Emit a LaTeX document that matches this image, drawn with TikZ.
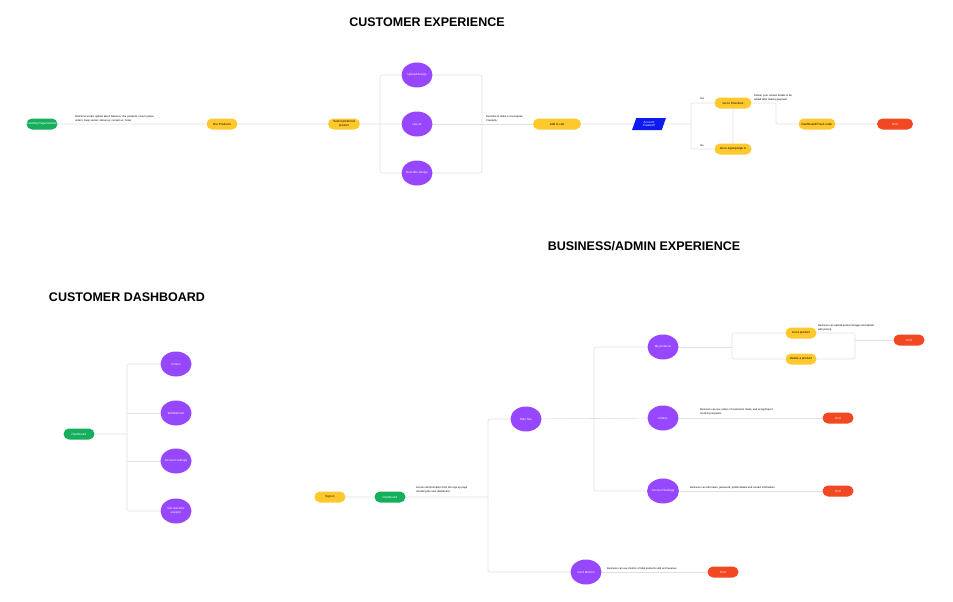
\documentclass[tikz,border=0pt]{standalone}
\usepackage{fontspec}
\setmainfont{Liberation Sans}
\usetikzlibrary{shapes.geometric,shapes.misc}
\definecolor{cgreen}{HTML}{14AE5C}
\definecolor{cyellow}{HTML}{FFC92E}
\definecolor{cpurple}{HTML}{9747FF}
\definecolor{cred}{HTML}{F24822}
\definecolor{cblue}{HTML}{0D1AF0}
\definecolor{cline}{HTML}{E0E0E0}
\newcommand\tinyf{\fontsize{3}{3.6}\selectfont}
\newcommand\notef{\fontsize{2.6}{3.3}\selectfont}
\tikzset{
  pill/.style={rounded rectangle, minimum height=11pt, minimum width=31pt, inner sep=0pt, font=\tinyf, align=center},
  gpill/.style={pill, fill=cgreen, text=white},
  ypill/.style={pill, fill=cyellow, text=black},
  rpill/.style={pill, fill=cred, text=white},
  circ/.style={ellipse, fill=cpurple, text=white, minimum width=31pt, minimum height=25pt, inner sep=0pt, font=\tinyf, align=center},
  para/.style={trapezium, trapezium left angle=70, trapezium right angle=110, trapezium stretches=true, minimum width=34pt, minimum height=12pt, inner sep=0pt, fill=cblue, text=white, font=\tinyf, align=center},
  note/.style={anchor=south west, inner sep=0pt, font=\notef, align=left},
  lbl/.style={inner sep=0pt, font=\notef},
  ttl/.style={font=\bfseries\fontsize{12.5}{14}\selectfont, inner sep=0pt},
  ln/.style={draw=cline, line width=0.6pt, rounded corners=2pt},
}
\begin{document}
\begin{tikzpicture}[x=1pt,y=-1pt]
\useasboundingbox[fill=white] (0,0) rectangle (953,602);
% titles
\node[ttl] (t1) at (427,22) {CUSTOMER EXPERIENCE};
\node[ttl] (t2) at (644,246) {BUSINESS/ADMIN EXPERIENCE};
\node[ttl] (t3) at (127,297) {CUSTOMER DASHBOARD};

% ---------- customer experience ----------
\node[gpill] (landing) at (42,124) {Landing Page/website};
\node[ypill] (products) at (222,124) {Our Products};
\node[ypill, minimum width=32pt] (select) at (344,124) {Select preferred\\product};
\node[circ] (upload) at (417,75) {Upload design};
\node[circ] (useai) at (417,124) {Use AI};
\node[circ] (describe) at (417,173) {Describe design};
\node[ypill, minimum width=48pt] (addcart) at (557,124) {Add to cart};
\node[para] (acct) at (649,124) {Account\\Created?};
\node[ypill, minimum width=37pt] (checkout) at (733,103) {Go to Checkout};
\node[ypill, minimum width=37pt] (signup) at (733,149) {Go to signup/sign in};
\node[ypill, minimum width=37pt] (track) at (817,124) {Dashboard/Track order};
\node[rpill, minimum width=36pt] (end1) at (895,124) {End};

\coordinate (bl) at (380,124);
\coordinate (br) at (482,124);
\coordinate (split) at (691,124);
\coordinate (cbend) at (776,103);

\draw[ln] (landing) -- (products);
\draw[ln] (products) -- (select);
\draw[ln] (select) -- (useai);
\draw[ln] (useai) -- (addcart);
\draw[ln] (upload) -| (bl) |- (describe);
\draw[ln] (upload) -| (br) |- (describe);
\draw[ln] (addcart) -- (acct);
\draw[ln] (acct) -- (split);
\draw[ln] (checkout) -| (split) |- (signup);
\draw[ln] (checkout) -- (signup);
\draw[ln] (checkout) -- (cbend) |- (track);
\draw[ln] (track) -- (end1);

\node[note] (n1) at (75,122) {Welcome words/ update about fabulous; Our products; How to place\\orders; Faqs section; about us; contact us; footer};
\node[note] (n2) at (486,122) {Describe to make a Conceptual\\Creativity};
\node[note] (n3) at (754,101) {Deliver your contact details to be\\added after making payment};
\node[lbl] (yes) at (702,99) {Yes};
\node[lbl] (no) at (702,146) {No};

% ---------- customer dashboard ----------
\node[gpill] (dashc) at (79,434) {Dashboard};
\node[circ] (orders1) at (176,364) {Orders};
\node[circ] (wish) at (176,413) {Wishlist/cart};
\node[circ] (acctset) at (176,461) {Account settings};
\node[circ] (support) at (176,511) {Get real-time\\support};
\coordinate (dsplit) at (127,434);
\draw[ln] (dashc) -- (dsplit);
\draw[ln] (orders1) -| (dsplit) |- (support);
\draw[ln] (wish) -- (wish -| dsplit);
\draw[ln] (acctset) -- (acctset -| dsplit);

% ---------- business / admin ----------
\node[ypill] (signin) at (330,497) {Sign in};
\node[gpill] (bdash) at (390,497) {Dashboard};
\node[circ] (sidenav) at (526,419) {Side Nav};
\node[circ] (myprod) at (663,347) {My products};
\node[circ] (orders2) at (663,418) {Orders};
\node[circ] (accset2) at (663,491) {Account Settings};
\node[circ] (cardm) at (586,572) {Card Metrics};
\node[ypill] (listp) at (801,333) {List a product};
\node[ypill] (delp) at (801,359) {Delete a product};
\node[rpill] (end2) at (909,340) {End};
\node[rpill] (end3) at (838,418) {End};
\node[rpill] (end4) at (838,491) {End};
\node[rpill] (end5) at (723,572) {End};

\coordinate (bsplit) at (488,497);
\coordinate (ssplit) at (594,419);
\coordinate (psplit) at (732,347);
\coordinate (pr) at (855,340);

\draw[ln] (signin) -- (bdash);
\draw[ln] (bdash) -- (bsplit);
\draw[ln] (sidenav) -| (bsplit) |- (cardm);
\draw[ln] (sidenav) -- (orders2);
\draw[ln] (myprod) -| (ssplit) |- (accset2);
\draw[ln] (myprod) -- (psplit);
\draw[ln] (listp) -| (psplit) |- (delp);
\draw[ln] (listp) -| (pr) |- (delp);
\draw[ln] (pr) -- (end2);
\draw[ln] (orders2) -- (end3);
\draw[ln] (accset2) -- (end4);
\draw[ln] (cardm) -- (end5);

\node[note] (n4) at (416,493) {Access all information from the sign up page\\including the user dashboard};
\node[note] (n5) at (818,331) {Business can upload product images and details\\with pricing};
\node[note] (n6) at (700,415) {Business can see orders of customers made, and accept/reject\\incoming requests};
\node[note] (n7) at (690,489) {Business can edit name, password, profile details and contact information};
\node[note] (n8) at (607,570) {Business can see metrics of total products sold and revenue};
\end{tikzpicture}
\end{document}
